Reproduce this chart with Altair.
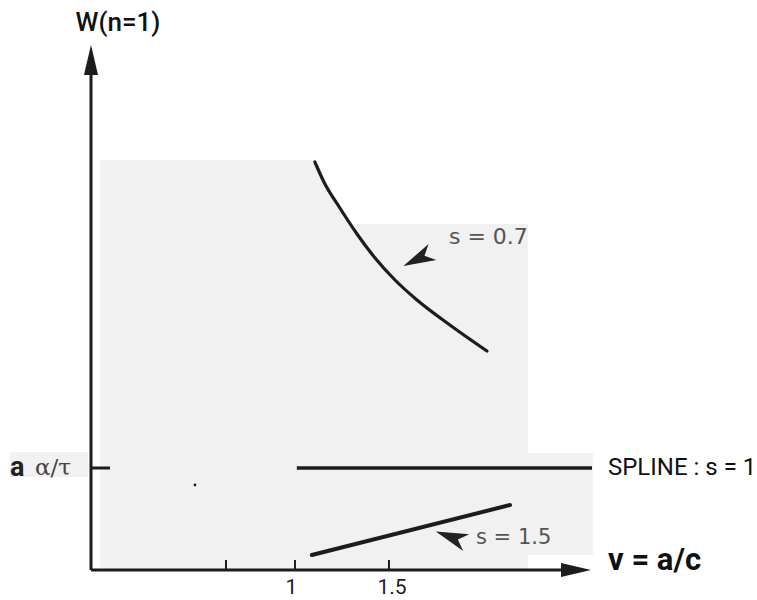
import altair as alt
import pandas as pd

# ---- data (v = a/c on x, W(n=1) on y; schematic units) ----
curve07_v = [1.106, 1.154, 1.239, 1.330, 1.426, 1.532, 1.649, 1.824, 2.021]
curve07_w = [4.08, 3.88, 3.62, 3.36, 3.12, 2.90, 2.70, 2.45, 2.19]
spline_v = [1.01, 2.58]
spline_w = [1.02, 1.02]
curve15_v = [1.09, 2.144]
curve15_w = [0.15, 0.65]
alpha_tau = 1.02
xtick_vals = [0.633, 1.0, 1.5]
xtick_labels = ["1", "1.5"]
xtick_label_v = [0.981, 1.516]

# shaded (scanned paper) regions
shade_v1 = [-0.037, 1.106, 2.239, -0.516]
shade_v2 = [1.106, 2.239, 2.585, -0.101]
shade_w1 = [0.0, 0.0, 0.15, 0.93]
shade_w2 = [4.10, 3.46, 1.17, 1.18]

X0, X1 = -0.085, 2.58
Y0, Y1 = 0.0, 5.25
xs = alt.Scale(domain=[X0, X1], nice=False, zero=False)
ys = alt.Scale(domain=[Y0, Y1], nice=False, zero=False)
def X(f="v"): return alt.X(f"{f}:Q", scale=xs, axis=None)
def Y(f="w"): return alt.Y(f"{f}:Q", scale=ys, axis=None)

GRAY = "#f1f1f1"
INK = "#1c1c1c"

shade = alt.Chart(pd.DataFrame({"v": shade_v1, "v2": shade_v2, "w": shade_w1, "w2": shade_w2})).mark_rect(
    color=GRAY, clip=False).encode(x=X(), x2="v2:Q", y=Y(), y2="w2:Q")

cdf = pd.DataFrame({"v": curve07_v, "w": curve07_w})
wdf = cdf[cdf.v <= 1.34].copy()
wdf["z"] = 0.0
wedge = alt.Chart(wdf).mark_area(color=GRAY, interpolate="monotone").encode(
    x=X(), y=Y(), y2="z:Q")

# axes
axes_df = pd.DataFrame({"v": [X0, X0], "v2": [X0, 2.516], "w": [0.0, 0.0], "w2": [5.0, 0.0]})
axes = alt.Chart(axes_df).mark_rule(color=INK, strokeWidth=3).encode(x=X(), x2="v2:Q", y=Y(), y2="w2:Q")

arrow_path = "M0,-1L0.47,1L-0.47,1Z"
arrows = alt.Chart(pd.DataFrame({"v": [X0, 2.495], "w": [5.10, 0.0], "a": [0, 90]})).mark_point(
    shape=arrow_path, filled=True, color=INK, size=900, opacity=1, clip=False).encode(
    x=X(), y=Y(), angle=alt.Angle("a:Q", scale=None))

xticks = alt.Chart(pd.DataFrame({"v": xtick_vals, "w": [0.0] * 3, "w2": [0.1] * 3})).mark_rule(
    color=INK, strokeWidth=2).encode(x=X(), y=Y(), y2="w2:Q")
ytick = alt.Chart(pd.DataFrame({"v": [X0], "v2": [0.016], "w": [alpha_tau]})).mark_rule(
    color=INK, strokeWidth=3).encode(x=X(), x2="v2:Q", y=Y())

# curves
c07 = alt.Chart(cdf).mark_line(color=INK, strokeWidth=3.2, interpolate="monotone", strokeCap="round").encode(
    x=X(), y=Y())
spl = alt.Chart(pd.DataFrame({"v": spline_v, "w": spline_w})).mark_line(
    color=INK, strokeWidth=3.5).encode(x=X(), y=Y())
c15 = alt.Chart(pd.DataFrame({"v": curve15_v, "w": curve15_w})).mark_line(
    color=INK, strokeWidth=4, strokeCap="round").encode(x=X(), y=Y())

# annotation darts
dart_path = "M0,-1L0.55,1L0,0.45L-0.55,1Z"
darts = alt.Chart(pd.DataFrame({"v": [1.654, 1.83], "w": [3.11, 0.33], "a": [244, 290]})).mark_point(
    shape=dart_path, filled=True, color="#222222", size=1050, opacity=1).encode(
    x=X(), y=Y(), angle=alt.Angle("a:Q", scale=None))

# speck
speck = alt.Chart(pd.DataFrame({"v": [0.468], "w": [0.85]})).mark_point(
    filled=True, color=INK, size=8, opacity=1).encode(x=X(), y=Y())

def txt(v, w, s, **kw):
    base = dict(font="Roboto", clip=False)
    base.update(kw)
    return alt.Chart(pd.DataFrame({"v": [v], "w": [w], "t": [s]})).mark_text(**base).encode(
        x=X(), y=Y(), text="t:N")

texts = [
    txt(0.0585, 5.47, "W(n=1)", fontSize=26, fontWeight=500, color="#111", align="center", baseline="middle"),
    txt(1.819, 3.33, "s = 0.7", font="DejaVu Sans", fontSize=22, color="#555", align="left", baseline="middle"),
    txt(1.963, 0.32, "s = 1.5", font="DejaVu Sans", fontSize=21, color="#555", align="left", baseline="middle"),
    txt(2.665, 1.02, "SPLINE : s = 1", fontSize=24, color="#111", align="left", baseline="middle"),
    txt(2.665, 0.0, "v = a/c", fontSize=31, fontWeight="bold", color="#111", align="left", baseline="alphabetic"),
    txt(xtick_label_v[0], -0.24, xtick_labels[0], fontSize=21, color="#222", align="center", baseline="alphabetic"),
    txt(xtick_label_v[1], -0.24, xtick_labels[1], fontSize=21, color="#222", align="center", baseline="alphabetic"),
    txt(-0.516, alpha_tau, "a", fontSize=27, fontWeight="bold", color="#222", align="left", baseline="middle"),
    txt(-0.383, alpha_tau, "α/τ", font="DejaVu Serif", fontSize=23, color="#444", align="left", baseline="middle"),
]

chart = alt.layer(shade, wedge, axes, arrows, xticks, ytick, spl, c15, c07, darts, speck, *texts).properties(
    width=501, height=525,
    padding={"left": 91, "top": 45, "right": 165, "bottom": 30},
    autosize=alt.AutoSizeParams(type="none"),
    background="white",
).configure_view(stroke=None)

chart.save("out.html", embed_options={"renderer": "svg", "actions": False})
